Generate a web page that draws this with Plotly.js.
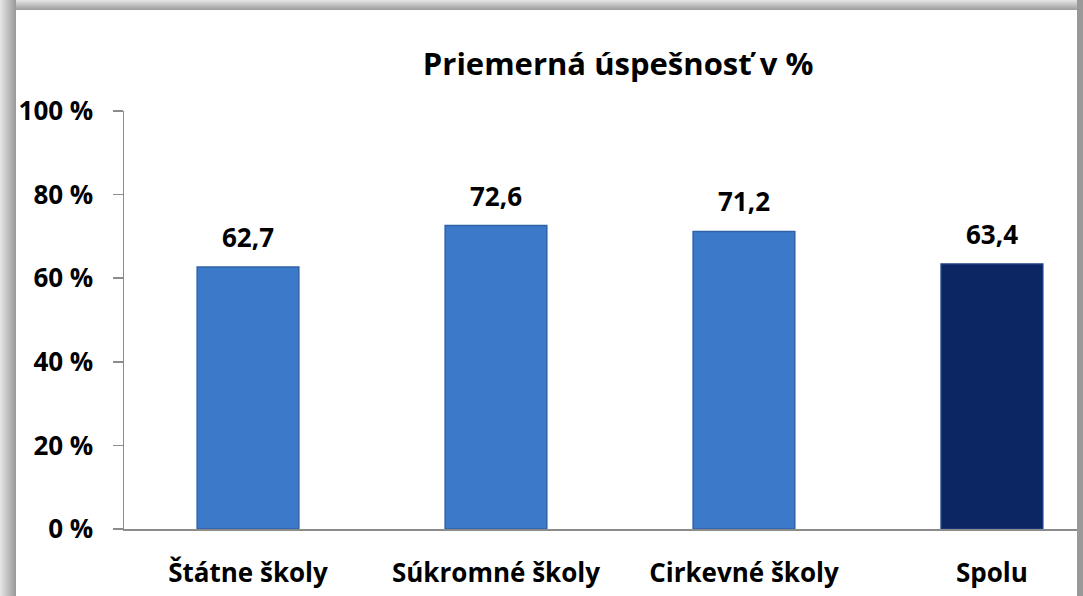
<!DOCTYPE html>
<html>
<head>
<meta charset="utf-8">
<script src="https://cdn.plot.ly/plotly-3.0.1.min.js"></script>
<style>
html,body{margin:0;padding:0;width:1083px;height:596px;overflow:hidden;background:#fff;}
#top{position:absolute;left:0;top:0;width:1083px;height:10px;background:linear-gradient(to bottom,#e6e6e6,#9c9c9c);}
#left{position:absolute;left:0;top:0;width:16px;height:596px;background:linear-gradient(to right,#e6e6e6,#999);}
#right{position:absolute;left:1077px;top:0;width:6px;height:596px;background:#999;}
#chart{position:absolute;left:16px;top:10px;width:1061px;height:586px;}
</style>
</head>
<body>
<div id="top"></div><div id="left"></div><div id="right"></div>
<div id="chart"></div>
<script>
const categories = ["Štátne školy", "Súkromné školy", "Cirkevné školy", "Spolu"];
const values = [62.7, 72.6, 71.2, 63.4];
const valueLabels = ["62,7", "72,6", "71,2", "63,4"];
const barColors = ["#3c79c9", "#3c79c9", "#3c79c9", "#0b2663"];
const lineColors = ["#2f62a6", "#2f62a6", "#2f62a6", "#1c3d82"];
const yTickVals = [0, 20, 40, 60, 80, 100];
const yTickText = ["0 %", "20 %", "40 %", "60 %", "80 %", "100 %"];

const font = "'Open Sans', sans-serif";

const trace = {
  type: "bar",
  x: categories,
  y: values,
  width: 0.41,
  marker: {color: barColors, line: {color: lineColors, width: 1.5}},
  hoverinfo: "skip"
};

const annotations = categories.map((c, i) => ({
  x: c, y: values[i], xref: "x", yref: "y",
  text: valueLabels[i], showarrow: false,
  yanchor: "bottom", yshift: 10,
  font: {family: font, size: 26, color: "#000", weight: 700}
}));

const layout = {
  width: 1061, height: 586,
  margin: {l: 108, r: 0, t: 101, b: 67},
  paper_bgcolor: "#fff", plot_bgcolor: "#fff",
  showlegend: false,
  title: {text: "<b>Priemerná úspešnosť v %</b>", x: 0.5675, xanchor: "center", y: 0.908, yanchor: "middle",
          font: {family: font, size: 31, color: "#000"}},
  xaxis: {
    range: [-0.5, 3.343], showgrid: false, zeroline: false,
    showline: true, linecolor: "#8c8c8c", linewidth: 1.5,
    ticks: "", tickfont: {family: font, size: 26, color: "#000", weight: 700},
    ticklabelstandoff: 20
  },
  yaxis: {
    range: [0, 100], tickvals: yTickVals, ticktext: yTickText,
    showgrid: false, zeroline: false,
    showline: true, linecolor: "#8c8c8c", linewidth: 1.5,
    ticks: "outside", ticklen: 10, tickcolor: "#8c8c8c", tickwidth: 1.5,
    tickfont: {family: font, size: 26, color: "#000", weight: 700},
    ticklabelstandoff: 14
  },
  annotations: annotations
};

Plotly.newPlot("chart", [trace], layout, {displayModeBar: false, staticPlot: true});
</script>
</body>
</html>
